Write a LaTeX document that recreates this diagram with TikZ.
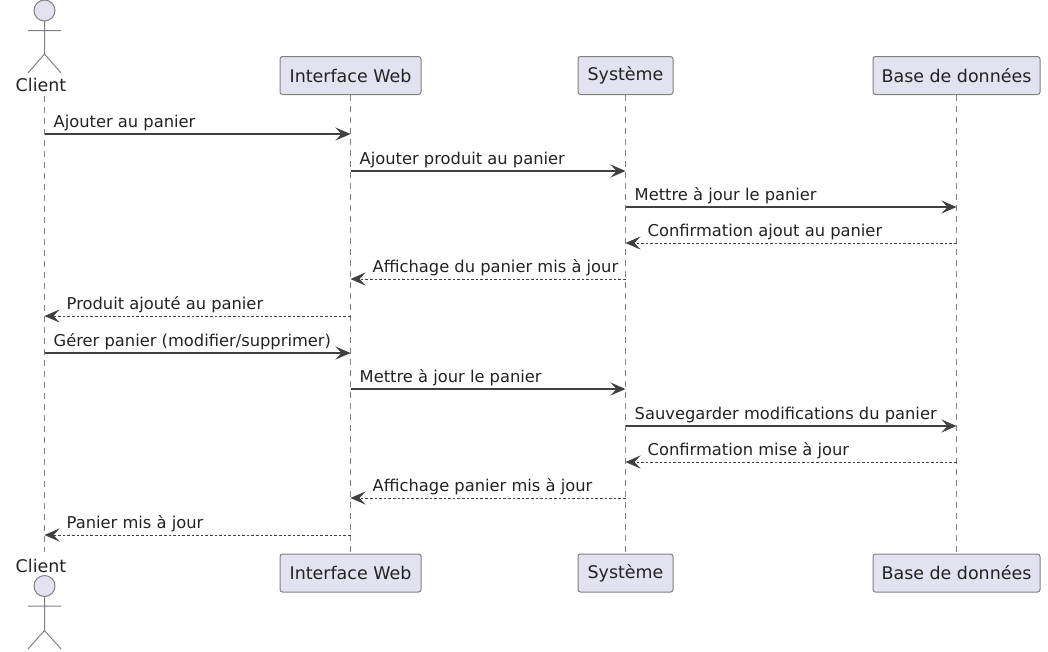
\documentclass[tikz,border=0pt]{standalone}
\usepackage{fontspec}
\setmainfont{DejaVu Sans}
\usetikzlibrary{arrows.meta}
\definecolor{boxfill}{HTML}{E2E2F0}
\definecolor{boxline}{HTML}{808080}
\definecolor{txt}{HTML}{222222}
\tikzset{
    partbox/.style={draw=boxline, fill=boxfill, rounded corners=2.5pt, line width=1pt, minimum height=38pt, inner xsep=0pt, text=txt, font=\fontsize{17.45}{20}\selectfont},
    lifeline/.style={draw=boxline, line width=0.8pt, dash pattern=on 6pt off 5pt},
    stick/.style={draw=boxline, line width=1pt},
    msglabel/.style={anchor=base west, inner sep=0pt, text=txt, font=\fontsize{16.3}{18}\selectfont},
    actorlabel/.style={inner sep=0pt, text=txt, font=\fontsize{17.45}{20}\selectfont},
    call/.style={draw=black!75, line width=1.1pt, -{Stealth[length=15pt,width=13pt,inset=6pt]}},
    reply/.style={draw=black!75, line width=0.9pt, dash pattern=on 2.6pt off 2pt, -{Stealth[length=15pt,width=13pt,inset=6pt]}}
}
\begin{document}
\begin{tikzpicture}[x=1pt,y=-1pt]
    \useasboundingbox (0,0) rectangle (1048,651);
    % Participants en haut
    \node[actorlabel] (clientTop) at (41,85) {Client};
    \node[partbox, minimum width=141pt] (webTop) at (350.5,75.5) {Interface Web};
    \node[partbox, minimum width=95pt] (sysTop) at (625.5,75.5) {Système};
    \node[partbox, minimum width=167pt] (baseTop) at (956.5,75.5) {Base de données};
    % Participants en bas
    \node[actorlabel] (clientBot) at (41,566) {Client};
    \node[partbox, minimum width=141pt] (webBot) at (350.5,573) {Interface Web};
    \node[partbox, minimum width=95pt] (sysBot) at (625.5,573) {Système};
    \node[partbox, minimum width=167pt] (baseBot) at (956.5,573) {Base de données};
    % Lignes de vie
    \coordinate (clientHigh) at (44.5,96);
    \coordinate (clientLow) at (44.5,552);
    \draw[lifeline] (clientHigh) -- (clientLow);
    \draw[lifeline] (webTop) -- (webBot);
    \draw[lifeline] (sysTop) -- (sysBot);
    \draw[lifeline] (baseTop) -- (baseBot);
    % Acteur en haut
    \draw[stick, fill=boxfill] (44.5,10.5) circle (10.5);
    \draw[stick] (44.5,21) -- (44.5,54) (28,30.5) -- (61,30.5) (28,73) -- (44.5,54) -- (61,73);
    % Acteur en bas
    \draw[stick, fill=boxfill] (44.5,586) circle (10.5);
    \draw[stick] (44.5,596.5) -- (44.5,630.5) (28,606) -- (61,606) (28,649) -- (44.5,630.5) -- (61,649);
    % Appels
    \foreach \i/\y/\from/\to/\txt in {
        1/134/clientHigh/webTop/{Ajouter au panier},
        2/171/webTop/sysTop/{Ajouter produit au panier},
        3/207/sysTop/baseTop/{Mettre à jour le panier},
        7/353/clientHigh/webTop/{Gérer panier (modifier/supprimer)},
        8/389/webTop/sysTop/{Mettre à jour le panier},
        9/426/sysTop/baseTop/{Sauvegarder modifications du panier}
    }{
        \coordinate (a\i) at (\from |- 0,\y);
        \coordinate (b\i) at (\to |- 0,\y);
        \draw[call] (a\i) -- (b\i);
        \node[msglabel] (msg\i) at ([xshift=9pt,yshift=7pt]a\i) {\txt};
    }
    % Retours
    \foreach \i/\y/\from/\to/\txt in {
        4/243/baseTop/sysTop/{Confirmation ajout au panier},
        5/279/sysTop/webTop/{Affichage du panier mis à jour},
        6/316/webTop/clientHigh/{Produit ajouté au panier},
        10/462/baseTop/sysTop/{Confirmation mise à jour},
        11/498/sysTop/webTop/{Affichage panier mis à jour},
        12/535/webTop/clientHigh/{Panier mis à jour}
    }{
        \coordinate (a\i) at (\from |- 0,\y);
        \coordinate (b\i) at (\to |- 0,\y);
        \draw[reply] (a\i) -- (b\i);
        \node[msglabel] (msg\i) at ([xshift=22pt,yshift=7pt]b\i) {\txt};
    }
\end{tikzpicture}
\end{document}
